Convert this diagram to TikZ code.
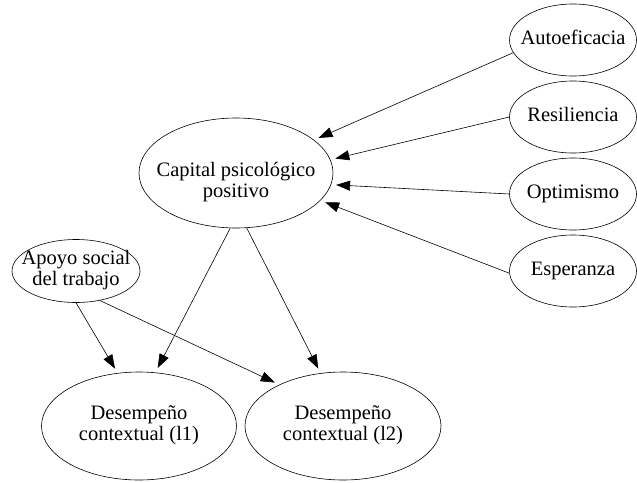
\documentclass[tikz,border=0pt]{standalone}
\usepackage{fontspec}
\setmainfont{Liberation Serif}
\usetikzlibrary{arrows.meta,shapes.geometric}
\newcommand{\elltext}[1]{\makebox[0pt]{\begin{tabular}{@{}c@{}}#1\end{tabular}}}

\begin{document}
\begin{tikzpicture}[x=1pt, y=-1pt,
    var/.style={draw, ellipse, line width=0.6pt, inner sep=0pt, font=\fontsize{20.5}{21}\selectfont},
    effect/.style={line width=0.6pt, -{Triangle[length=14pt,width=10pt]}, shorten >=5pt}]
  \useasboundingbox (0,0) rectangle (637,482);
  % constructs
  \node[var, minimum width=194pt, minimum height=110pt] (capital) at (236,173) {\elltext{\rule{0pt}{34pt}Capital psicológico\\positivo}};
  \node[var, minimum width=127pt, minimum height=72pt]  (auto)    at (573, 40) {\elltext{Autoeficacia}};
  \node[var, minimum width=127pt, minimum height=72pt]  (resil)   at (573,117) {\elltext{Resiliencia}};
  \node[var, minimum width=127pt, minimum height=72pt]  (optim)   at (573,194) {\elltext{Optimismo}};
  \node[var, minimum width=127pt, minimum height=72pt]  (esper)   at (573,271) {\elltext{Esperanza}};
  \node[var, minimum width=128pt, minimum height=63pt]  (apoyo)   at ( 76,271) {\elltext{Apoyo social\\del trabajo}};
  \node[var, minimum width=195pt, minimum height=108pt] (desemp1) at (139,426) {\elltext{Desempeño\\contextual (l1)}};
  \node[var, minimum width=196pt, minimum height=108pt] (desemp2) at (343,426) {\elltext{Desempeño\\contextual (l2)}};
  % paths
  \draw[effect] (auto.192)     -- (capital.23);
  \draw[effect] (resil.west)   -- (capital.8);
  \draw[effect] (optim.west)   -- (capital.-7);
  \draw[effect] (esper.182)    -- (capital.-18);
  \draw[effect] (capital.264)  -- (desemp1.73);
  \draw[effect] (capital.281)  -- (desemp2.113);
  \draw[effect] (apoyo.south)  -- (desemp1.112);
  \draw[effect] (apoyo.-51)    -- (desemp2.147);
\end{tikzpicture}
\end{document}
